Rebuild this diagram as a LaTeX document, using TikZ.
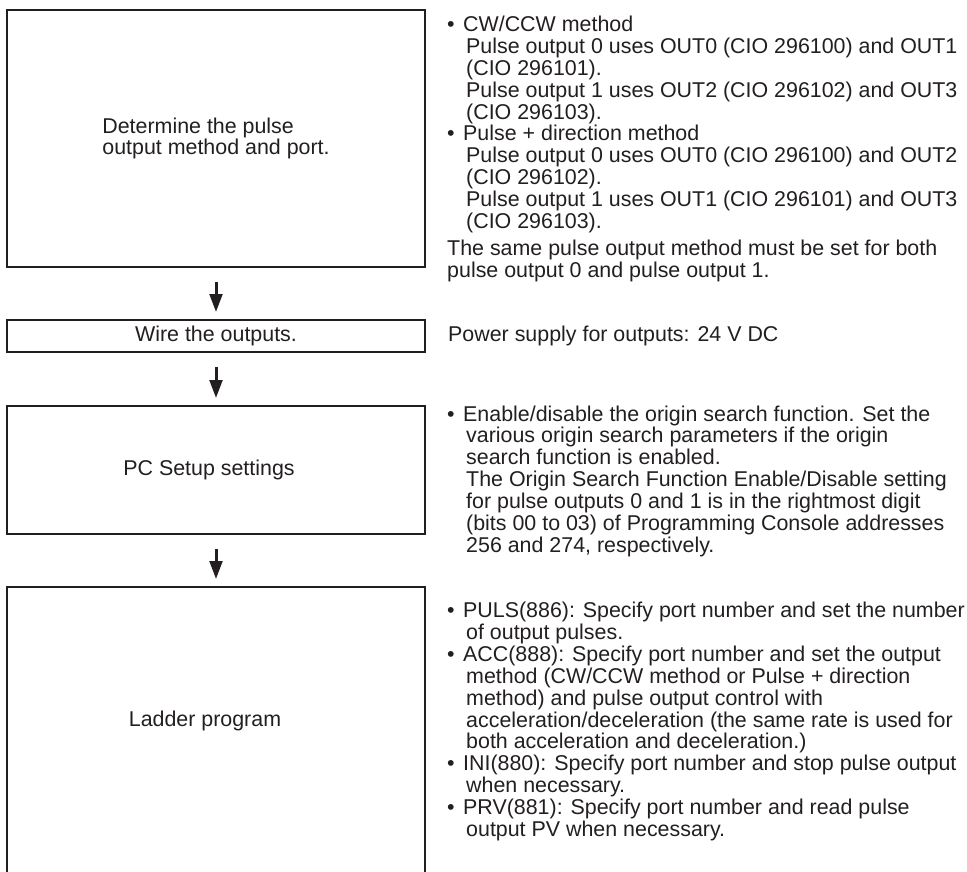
\documentclass[tikz,border=0pt]{standalone}
\usepackage{fontspec}
\setmainfont{Liberation Sans}
\usetikzlibrary{arrows.meta}
\definecolor{ink}{RGB}{35,31,32}
\newcommand\myBul{\makebox[16pt][l]{•}}
\newcommand\myInd{\hspace*{19pt}}
\begin{document}
\begin{tikzpicture}[x=1pt,y=-1pt,
  box/.style={draw=ink, line width=2pt, inner sep=0pt, text=ink, align=left,
    font=\fontsize{21.4}{21.9}\selectfont},
  flow/.style={draw=ink, line width=3pt, -{Triangle[length=18pt,width=12.7pt]},
    shorten <=14pt, shorten >=7pt},
  lbl/.style={text=ink, inner sep=0pt, font=\fontsize{21.4}{21.9}\selectfont},
  note/.style={text=ink, inner sep=0pt, anchor=base west,
    font=\fontsize{21.4}{21.9}\selectfont}]
\useasboundingbox (0,0) rectangle (967,872);
\clip (0,0) rectangle (967,872);
\fill[white] (0,0) rectangle (967,872);

% boxes
\node[box, minimum width=418pt, minimum height=257pt] (b1) at (216,138.5)
  {Determine the pulse\\output method and port.};
\node[box, minimum width=418pt, minimum height=32pt] (b2) at (216,336)
  {Wire the outputs.};
\node[box, minimum width=418pt, minimum height=128pt] (b3) at (216,470) {};
\node[box, minimum width=418pt, minimum height=320pt] (b4) at (216,747) {};
\node[lbl] (t3) at (209,470) {PC Setup settings};
\node[lbl] (t4) at (205,720.7) {Ladder program};

% arrows
\draw[flow] (b1.south) -- (b2.north);
\draw[flow] (b2.south) -- (b3.north);
\draw[flow] (b3.south) -- (b4.north);

% notes
\node[note] (n1) at (447,31.5) {\parbox[t]{600pt}{\raggedright
\myBul CW/CCW method\\
\myInd Pulse output 0 uses OUT0 (CIO 296100) and OUT1\\
\myInd (CIO 296101).\\
\myInd Pulse output 1 uses OUT2 (CIO 296102) and OUT3\\
\myInd (CIO 296103).\\
\myBul Pulse + direction method\\
\myInd Pulse output 0 uses OUT0 (CIO 296100) and OUT2\\
\myInd (CIO 296102).\\
\myInd Pulse output 1 uses OUT1 (CIO 296101) and OUT3\\
\myInd (CIO 296103).\\[4.7pt]
The same pulse output method must be set for both\\
pulse output 0 and pulse output 1.}};

\node[note] (n2) at (448,341.5) {Power supply for outputs: 24 V DC};

\node[note] (n3) at (447,421) {\parbox[t]{600pt}{\raggedright
\myBul Enable/disable the origin search function. Set the\\
\myInd various origin search parameters if the origin\\
\myInd search function is enabled.\\
\myInd The Origin Search Function Enable/Disable setting\\
\myInd for pulse outputs 0 and 1 is in the rightmost digit\\
\myInd (bits 00 to 03) of Programming Console addresses\\
\myInd 256 and 274, respectively.}};

\node[note] (n4) at (447,617.5) {\parbox[t]{600pt}{\raggedright
\myBul PULS(886): Specify port number and set the number\\
\myInd of output pulses.\\
\myBul ACC(888): Specify port number and set the output\\
\myInd method (CW/CCW method or Pulse + direction\\
\myInd method) and pulse output control with\\
\myInd acceleration/deceleration (the same rate is used for\\
\myInd both acceleration and deceleration.)\\
\myBul INI(880): Specify port number and stop pulse output\\
\myInd when necessary.\\
\myBul PRV(881): Specify port number and read pulse\\
\myInd output PV when necessary.}};
\end{tikzpicture}
\end{document}
